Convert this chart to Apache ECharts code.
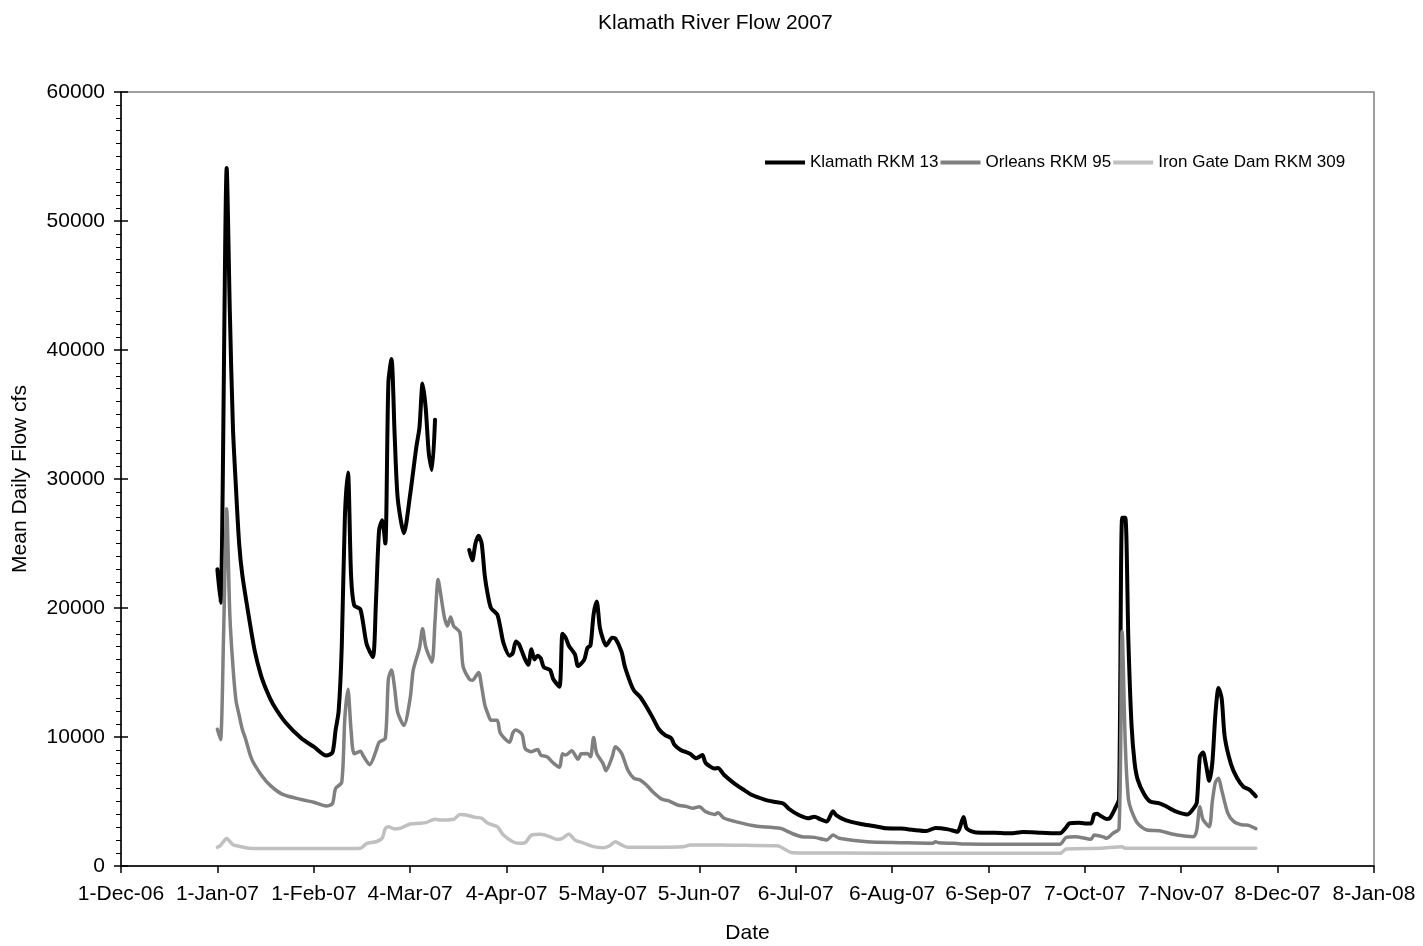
<!DOCTYPE html>
<html>
<head>
<meta charset="utf-8">
<script src="https://cdn.jsdelivr.net/npm/echarts@6/dist/echarts.min.js"></script>
<style>
html,body{margin:0;padding:0;background:#fff;}
#chart{width:1423px;height:946px;}
</style>
</head>
<body>
<div id="chart"></div>
<script>
// x = days since 1-Jan-2007
const xTickLabels = ['1-Dec-06','1-Jan-07','1-Feb-07','4-Mar-07','4-Apr-07','5-May-07','5-Jun-07','6-Jul-07','6-Aug-07','6-Sep-07','7-Oct-07','7-Nov-07','8-Dec-07','8-Jan-08'];
const seriesNames = ['Klamath RKM 13','Orleans RKM 95','Iron Gate Dam RKM 309'];

const klamathDays = [0,1,3,4,5,6,7,8,10,12,14,16,18,22,27,31,35,37,38,39,40,41,42,43,44,46,48,50,51,52,53,54,55,56,57,58,60,62,64,65,66,67,68,69,70,75,
81,82,83,84,85,86,87,88,90,91,92,94,95,96,97,98,99,100,101,102,103,104,105,107,108,110,111,112,113,115,116,118,119,120,121,122,123,124,125,127,128,130,131,133,134,136,138,140,142,144,146,147,149,152,154,156,157,160,161,163,166,169,172,176,179,182,184,187,190,192,194,196,198,199,202,207,211,215,220,224,228,231,235,238,240,241,244,250,255,259,265,271,273,274,277,279,281,282,283,284,286,287,288,289,290,291,292,293,294,295,296,298,300,303,305,308,312,314,315,316,317,318,319,320,321,322,323,324,326,328,330,332,334];
const klamathFlow = [23000,20400,54100,43000,34000,29200,25000,22600,19500,16700,14800,13500,12500,11100,9900,9250,8560,8800,10500,12000,17000,27000,30500,22500,20200,19900,17200,16200,20500,26000,26800,25000,37500,39300,33500,28500,25800,28800,32500,34000,37400,35500,32000,30700,34600,null,
24500,23700,25000,25600,25000,22500,21000,20000,19500,18500,17300,16300,16500,17400,17200,16600,16000,15600,16800,16000,16300,16100,15400,15200,14500,13900,18000,17700,17100,16400,15500,16000,16900,17100,19500,20500,18500,17600,17100,17700,17650,16600,15500,14100,13600,13100,12350,11500,10600,10150,9900,9400,9000,8700,8350,8600,8000,7550,7600,7050,6450,5950,5500,5150,4980,4850,4400,3950,3700,3820,3620,3450,4250,3950,3560,3260,3100,2920,2900,2790,2710,2950,2840,2660,3800,2900,2600,2580,2530,2630,2580,2530,3000,3300,3360,3300,3300,4000,4050,3900,3650,3700,4100,4600,5200,27000,27000,17500,11000,8000,6700,5600,5000,4860,4650,4260,4000,4470,4900,8500,8800,7800,6600,8000,11800,13800,13000,10000,7900,6800,6150,5900,5400];

const orleansDays = [0,1,2,3,4,5,6,7,8,9,11,14,17,21,27,31,35,37,38,40,41,42,43,44,46,47,49,51,52,54,55,56,57,58,60,62,63,65,66,67,69,70,71,72,73,74,75,76,78,79,81,82,84,85,86,87,88,90,91,94,95,96,98,99,101,103,104,106,108,110,111,112,114,116,117,119,120,121,122,124,125,127,128,130,132,134,136,138,140,143,145,148,151,153,155,157,160,161,163,168,173,181,185,188,192,196,198,200,209,220,230,231,232,237,241,252,262,271,273,276,281,282,285,286,288,290,291,292,293,294,296,299,303,307,311,314,315,316,317,319,320,321,322,323,325,327,330,331,334];
const orleansFlow = [10600,9800,18000,27700,19500,15500,12800,11700,10600,9900,8300,7100,6250,5550,5150,4940,4650,4830,6000,6500,11500,13700,10500,8700,8900,8500,7850,8900,9600,9900,14500,15200,13800,11900,10900,13000,15200,16900,18400,17000,15800,19000,22200,20800,19300,18600,19300,18600,18100,15500,14500,14400,15000,13900,12500,11800,11300,11300,10300,9600,10300,10540,10200,9100,8860,9040,8600,8470,8000,7650,8700,8600,8940,8270,8700,8730,8470,9970,8730,7960,7390,8470,9250,8730,7440,6800,6660,6280,5760,5170,5060,4730,4600,4470,4600,4210,4000,4130,3700,3360,3100,2920,2500,2270,2220,2020,2400,2150,1880,1810,1760,1880,1800,1760,1700,1680,1680,1680,2220,2270,2070,2400,2250,2150,2530,2900,18200,9500,5200,4300,3300,2790,2740,2480,2330,2270,2790,4600,3600,3050,5000,6500,6800,5900,4080,3430,3180,3180,2900];

const ironGateDays = [0,1,2,3,4,5,7,10,20,30,40,46,48,51,53,54,55,57,59,62,65,67,70,72,76,78,80,83,85,87,90,92,95,97,99,101,104,107,109,111,113,115,118,121,124,126,128,130,132,139,150,152,162,170,180,185,200,230,250,271,273,284,291,292,334];
const ironGateFlow = [1450,1600,1900,2150,1900,1650,1530,1380,1350,1350,1350,1380,1740,1880,2160,2900,3050,2870,2940,3260,3310,3360,3620,3560,3620,4000,3950,3770,3700,3310,3050,2400,1880,1760,1810,2400,2460,2270,2070,2150,2480,2020,1760,1500,1420,1550,1880,1630,1450,1450,1500,1620,1620,1600,1570,1030,1000,990,990,980,1320,1370,1500,1370,1370];

const colors = ['#000000','#808080','#c0c0c0'];
const font = "'Liberation Sans', Arial, sans-serif";

function pairs(days, vals){ return days.map((d,i)=>[d, vals[i]]); }

const chart = echarts.init(document.getElementById('chart'), null, {renderer:'canvas'});
const lineSeries = [
  [klamathDays, klamathFlow, 4],
  [orleansDays, orleansFlow, 3.5],
  [ironGateDays, ironGateFlow, 3.5]
].map((s, i) => ({
  name: seriesNames[i],
  type: 'line',
  data: pairs(s[0], s[1]),
  showSymbol: false,
  symbol: 'none',
  smooth: 0.25,
  connectNulls: false,
  lineStyle: {color: colors[i], width: s[2], cap: 'round', join: 'round'},
  itemStyle: {color: colors[i]},
  z: 3 + i
}));

chart.setOption({
  animation: false,
  backgroundColor: '#ffffff',
  textStyle: {fontFamily: font},
  title: {
    text: 'Klamath River Flow 2007',
    left: 593,
    top: 8,
    textStyle: {fontSize: 21, fontWeight: 'normal', color: '#000', fontFamily: font}
  },
  legend: {
    left: 760,
    top: 149,
    icon: 'rect',
    itemWidth: 40,
    itemHeight: 4,
    itemGap: 2,
    textStyle: {fontSize: 17, color: '#000', fontFamily: font},
    data: seriesNames
  },
  grid: {
    left: 121, right: 49, top: 92, bottom: 80,
    outerBoundsMode: 'none',
    containLabel: false,
    show: true, borderColor: '#808080', borderWidth: 1.5, backgroundColor: 'transparent'
  },
  xAxis: {
    type: 'value',
    min: -31, max: 372, interval: 31,
    name: 'Date',
    nameLocation: 'middle',
    nameGap: 57,
    nameTextStyle: {fontSize: 21, color: '#000', fontFamily: font},
    axisLine: {show: true, onZero: false, lineStyle: {color: '#000', width: 1.5}},
    axisTick: {show: true, length: 7, lineStyle: {color: '#000', width: 1.5}},
    axisLabel: {
      fontSize: 21, color: '#000', margin: 18, fontFamily: font,
      formatter: v => xTickLabels[Math.round((v + 31) / 31)] || ''
    },
    splitLine: {show: false}
  },
  yAxis: [{
    type: 'value',
    position: 'left',
    min: 0, max: 60000, interval: 10000,
    name: 'Mean Daily Flow cfs',
    nameLocation: 'middle',
    nameGap: 90,
    nameTextStyle: {fontSize: 21, color: '#000', fontFamily: font},
    axisLine: {show: true, onZero: false, lineStyle: {color: '#000', width: 1.5}},
    axisTick: {show: true, length: 7, lineStyle: {color: '#000', width: 1.5}},
    minorTick: {show: true, splitNumber: 10, length: 5, lineStyle: {color: '#000', width: 1}},
    axisLabel: {fontSize: 21, color: '#000', margin: 16, fontFamily: font, formatter: v => String(v)},
    splitLine: {show: false},
    minorSplitLine: {show: false}
  }, {
    type: 'value',
    position: 'left',
    offset: 0,
    min: 0, max: 60000, interval: 10000,
    axisLine: {show: false, onZero: false},
    axisTick: {show: true, inside: true, length: 7, lineStyle: {color: '#000', width: 1.5}},
    axisLabel: {show: false},
    splitLine: {show: false}
  }],
  series: lineSeries
});
</script>
</body>
</html>
